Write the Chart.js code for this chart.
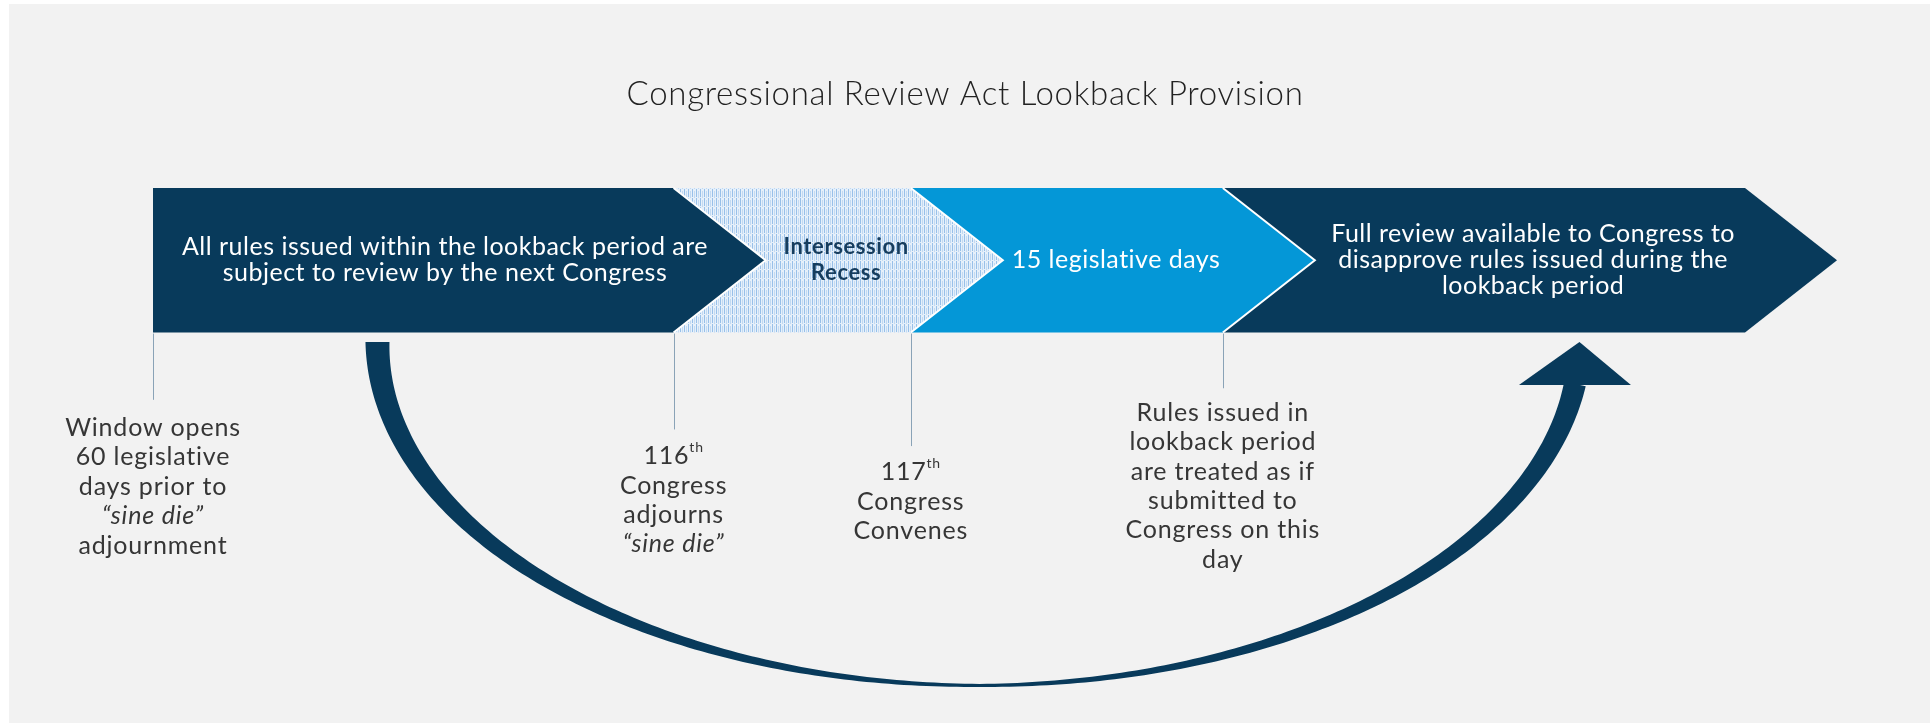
<!DOCTYPE html>
<html>
<head>
<meta charset="utf-8">
<script src="https://cdn.jsdelivr.net/npm/chart.js@4.4.1/dist/chart.umd.min.js"></script>
<style>
  html, body { margin: 0; padding: 0; background: #fff; }
  #wrap { width: 1930px; height: 723px; position: relative; }
</style>
</head>
<body>
<div id="wrap"><canvas id="craChart"></canvas></div>
<script>
// =====================
// Data (timeline units: lookback window opens at 0, right end of band at 100)
// =====================
const chartTitle = 'Congressional Review Act Lookback Provision';
const stageNames = [
  ['All rules issued within the lookback period are', 'subject to review by the next Congress'],
  ['Intersession', 'Recess'],
  ['15 legislative days'],
  ['Full review available to Congress to', 'disapprove rules issued during the', 'lookback period']
];
const stageBounds = [0, 32.7, 47.6, 67.2, 100];
const milestoneAt = [0, 32.7, 47.6, 67.2];
// "^" starts a superscript, "_" marks an italic line
const milestoneText = [
  ['Window opens', '60 legislative', 'days prior to', '_\u201Csine die\u201D', 'adjournment'],
  ['116^th', 'Congress', 'adjourns', '_\u201Csine die\u201D'],
  ['117^th', 'Congress', 'Convenes'],
  ['Rules issued in', 'lookback period', 'are treated as if', 'submitted to', 'Congress on this', 'day']
];
const lookbackFrom = 14.1;   // where the curved arrow leaves the band
const lookbackTo = 89.6;     // where it comes back

// =====================
// Layout / styles (y units: 0 = top, 100 = bottom)
// =====================
const NAVY = '#083a5b';
const BLUE = '#0497d7';
const FONT = 'Lato, "Open Sans", sans-serif';
const lay = {
  titleY: 13.1,
  bandTop: 26.0, bandBottom: 46.0,
  tip: 5.78,
  stageShift: [-0.9, 0.5, 0.2, 0.2],
  stageLine: 26,
  tickEnd: [55.3, 59.4, 61.7, 53.7],
  labelY: [59.2, 63.1, 65.3, 57.1],
  labelLine: 29.4,
  arcTop: 47.3, arcBottom: 94.8, arrowBase: 53.1,
  arcW: [24, 3, 22], headHalf: 56
};

function hatchPattern(ctx) {
  const c = document.createElement('canvas');
  c.width = 4; c.height = 9;
  const g = c.getContext('2d');
  g.fillStyle = '#e6f0fa';
  g.fillRect(0, 0, 4, 9);
  g.fillStyle = '#98c0e9';
  g.fillRect(0, 0, 1, 8);
  g.fillStyle = '#c2daf2';
  g.fillRect(2, 2, 1, 7);
  return ctx.createPattern(c, 'repeat');
}

function drawRichLine(ctx, text, x, y, size, color) {
  let italic = false;
  if (text[0] === '_') { italic = true; text = text.slice(1); }
  const parts = text.split('^');
  const main = parts[0], sup = parts[1] || '';
  const f = (italic ? 'italic ' : '') + size + 'px ' + FONT;
  const fs = Math.round(size * 0.58) + 'px ' + FONT;
  ctx.letterSpacing = '0.8px';
  ctx.font = f;
  const w1 = ctx.measureText(main).width;
  ctx.font = fs;
  const w2 = sup ? ctx.measureText(sup).width : 0;
  const left = x - (w1 + w2) / 2;
  ctx.fillStyle = color;
  ctx.textAlign = 'left';
  ctx.textBaseline = 'middle';
  ctx.font = f;
  ctx.fillText(main, left, y);
  if (sup) {
    ctx.font = fs;
    ctx.fillText(sup, left + w1, y - size * 0.34);
  }
  ctx.letterSpacing = '0px';
}

const diagramPlugin = {
  id: 'diagram',
  beforeDraw(chart) {
    const { ctx, width, height } = chart;
    ctx.save();
    ctx.fillStyle = '#ffffff';
    ctx.fillRect(0, 0, width, height);
    ctx.fillStyle = '#f2f2f2';
    ctx.fillRect(9, 4, width - 9, height - 4);
    ctx.restore();
  },
  afterDatasetsDraw(chart) {
    const { ctx } = chart;
    const xs = chart.scales.x, ys = chart.scales.y;
    const X = v => xs.getPixelForValue(v);
    const Y = v => ys.getPixelForValue(v);
    ctx.save();

    // title
    ctx.fillStyle = '#222222';
    ctx.font = '300 33px ' + FONT;
    ctx.letterSpacing = '0.7px';
    ctx.textAlign = 'center';
    ctx.textBaseline = 'middle';
    ctx.fillText(chartTitle, (X(xs.min) + X(xs.max)) / 2, Y(lay.titleY));

    // chevrons, right to left so each tip sits on the next stage
    const top = Y(lay.bandTop), bot = Y(lay.bandBottom), mid = (top + bot) / 2;
    const fills = [NAVY, hatchPattern(ctx), BLUE, NAVY];
    for (let i = stageNames.length - 1; i >= 0; i--) {
      const x0 = X(stageBounds[i]), x1 = X(stageBounds[i + 1]);
      const xt = X(stageBounds[i + 1] + lay.tip);
      ctx.beginPath();
      ctx.moveTo(x0, top);
      ctx.lineTo(x1, top);
      ctx.lineTo(xt, mid);
      ctx.lineTo(x1, bot);
      ctx.lineTo(x0, bot);
      ctx.closePath();
      ctx.fillStyle = fills[i];
      ctx.fill();
      if (i < stageNames.length - 1) {
        ctx.beginPath();
        ctx.moveTo(x1, top);
        ctx.lineTo(xt, mid);
        ctx.lineTo(x1, bot);
        ctx.strokeStyle = '#ffffff';
        ctx.lineWidth = 2;
        ctx.stroke();
      }
    }

    // stage text
    stageNames.forEach((lines, i) => {
      const cx = X((stageBounds[i] + stageBounds[i + 1] + lay.tip) / 2 + lay.stageShift[i]);
      const y0 = mid - (lines.length - 1) * lay.stageLine / 2;
      ctx.textAlign = 'center';
      ctx.textBaseline = 'middle';
      if (i === 1) {
        ctx.font = 'bold 22px ' + FONT;
        ctx.letterSpacing = '0.6px';
        ctx.fillStyle = '#163d5e';
      } else {
        ctx.font = '25px ' + FONT;
        ctx.letterSpacing = '0.5px';
        ctx.fillStyle = '#ffffff';
      }
      lines.forEach((t, k) => ctx.fillText(t, cx, y0 + k * lay.stageLine));
    });

    // milestone ticks and labels
    milestoneAt.forEach((m, i) => {
      const x = Math.round(X(m)) + 0.5;
      ctx.beginPath();
      ctx.moveTo(x, bot + 1);
      ctx.lineTo(x, Y(lay.tickEnd[i]));
      ctx.strokeStyle = '#8aa3b7';
      ctx.lineWidth = 1;
      ctx.stroke();
      milestoneText[i].forEach((t, k) => {
        drawRichLine(ctx, t, X(m), Y(lay.labelY[i]) + k * lay.labelLine, 25, '#363636');
      });
    });

    // curved lookback arrow (tapered half ellipse)
    const xa = X(lookbackFrom), xb = X(lookbackTo);
    const cx = (xa + xb) / 2, rx = (xb - xa) / 2;
    const cy = Y(lay.arcTop), ry = Y(lay.arcBottom) - cy;
    const baseY = Y(lay.arrowBase);
    const tEnd = Math.asin((baseY - cy) / ry);
    const [wS, wM, wE] = lay.arcW;
    const outer = [], inner = [];
    const N = 240;
    for (let k = 0; k <= N; k++) {
      const t = Math.PI - (Math.PI - tEnd) * k / N;
      let w;
      if (t >= Math.PI / 2) w = wM + (wS - wM) * Math.pow((t - Math.PI / 2) / (Math.PI / 2), 1.1);
      else w = wM + (wE - wM) * Math.pow((Math.PI / 2 - t) / (Math.PI / 2 - tEnd), 1.1);
      const px = cx + rx * Math.cos(t), py = cy + ry * Math.sin(t);
      let nx = -ry * Math.cos(t), ny = -rx * Math.sin(t);
      const len = Math.hypot(nx, ny);
      nx /= len; ny /= len;
      outer.push([px - nx * w / 2, py - ny * w / 2]);
      inner.push([px + nx * w / 2, py + ny * w / 2]);
    }
    ctx.beginPath();
    ctx.moveTo(outer[0][0], outer[0][1]);
    outer.forEach(p => ctx.lineTo(p[0], p[1]));
    for (let k = inner.length - 1; k >= 0; k--) ctx.lineTo(inner[k][0], inner[k][1]);
    ctx.closePath();
    ctx.fillStyle = NAVY;
    ctx.fill();

    // arrow head
    const ex = cx + rx * Math.cos(tEnd);
    const dx = rx * Math.sin(tEnd), dy = ry * Math.cos(tEnd);
    const headLen = baseY - cy;
    const tipX = ex + (dx / dy) * headLen * 0.5;
    ctx.beginPath();
    ctx.moveTo(tipX, cy);
    ctx.lineTo(ex + lay.headHalf, baseY + 1);
    ctx.lineTo(ex - lay.headHalf, baseY + 1);
    ctx.closePath();
    ctx.fill();

    ctx.restore();
  }
};

new Chart(document.getElementById('craChart'), {
  type: 'scatter',
  data: {
    datasets: [{
      label: 'milestones',
      data: milestoneAt.map(m => ({ x: m, y: lay.bandBottom })),
      pointRadius: 0
    }]
  },
  options: {
    responsive: true,
    maintainAspectRatio: false,
    animation: false,
    layout: { padding: 0 },
    plugins: { legend: { display: false }, tooltip: { enabled: false } },
    scales: {
      x: { type: 'linear', display: false, min: -9.61, max: 111.62 },
      y: { type: 'linear', display: false, min: 0, max: 100, reverse: true }
    }
  },
  plugins: [diagramPlugin]
});
</script>
</body>
</html>
